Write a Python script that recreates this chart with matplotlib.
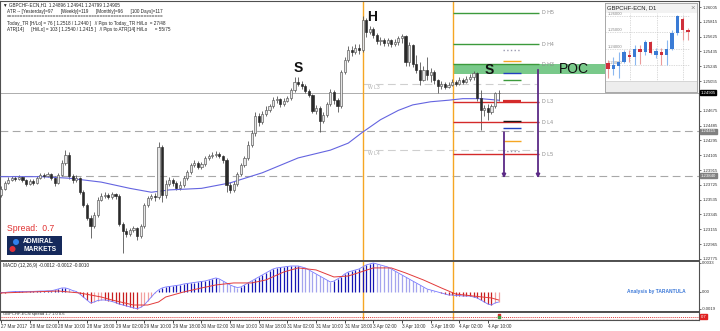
import numpy as np
import matplotlib
matplotlib.use('Agg')
import matplotlib.pyplot as plt
from matplotlib.patches import Rectangle, Circle

plt.rcParams['font.family'] = ['Liberation Sans', 'DejaVu Sans']

# ---------------- data (GBPCHF-ECN, H1) ----------------
first_open = 1.2360
closes = [1.2367, 1.2375, 1.2379, 1.2381, 1.2380, 1.2383, 1.2379, 1.2374, 1.2377, 1.2375,
          1.2381, 1.2385, 1.2384, 1.2386, 1.2381, 1.2375, 1.2385, 1.2401, 1.2411, 1.2384,
          1.2379, 1.2381, 1.2363, 1.2347, 1.2330, 1.2320, 1.2334, 1.2353, 1.2358, 1.2360,
          1.2357, 1.2361, 1.2358, 1.2322, 1.2313, 1.2310, 1.2315, 1.2317, 1.2307, 1.2320,
          1.2347, 1.2356, 1.2358, 1.2357, 1.2421, 1.2360, 1.2374, 1.2379, 1.2375, 1.2368,
          1.2372, 1.2381, 1.2389, 1.2398, 1.2401, 1.2395, 1.2399, 1.2407, 1.2410, 1.2411,
          1.2412, 1.2410, 1.2404, 1.2372, 1.2366, 1.2374, 1.2386, 1.2398, 1.2407, 1.2424,
          1.2439, 1.2461, 1.2453, 1.2463, 1.2468, 1.2474, 1.2481, 1.2483, 1.2476, 1.2480,
          1.2484, 1.2494, 1.2504, 1.2502, 1.2499, 1.2493, 1.2488, 1.2467, 1.2471, 1.2454,
          1.2462, 1.2476, 1.2492, 1.2481, 1.2474, 1.2517, 1.2533, 1.2545, 1.2543, 1.2548,
          1.2545, 1.2584, 1.2568, 1.2572, 1.2565, 1.2557, 1.2558, 1.2554, 1.2558, 1.2553,
          1.2556, 1.2561, 1.2563, 1.2530, 1.2552, 1.2527, 1.2520, 1.2507, 1.2520, 1.2513,
          1.2517, 1.2507, 1.2499, 1.2502, 1.2498, 1.2501, 1.2504, 1.2502, 1.2507, 1.2504,
          1.2508, 1.2511, 1.2516, 1.2484, 1.2468, 1.2471, 1.2466, 1.2474, 1.2490, 1.24905]
highs = [1.2371, 1.2377, 1.2383, 1.2384, 1.2384, 1.2385, 1.2384, 1.2380, 1.2380, 1.2380,
         1.2384, 1.2388, 1.2388, 1.2389, 1.2388, 1.2384, 1.2388, 1.2404, 1.2417, 1.2415,
         1.2386, 1.2385, 1.2383, 1.2366, 1.2349, 1.2334, 1.2338, 1.2357, 1.2362, 1.2363,
         1.2362, 1.2363, 1.2362, 1.2361, 1.2325, 1.2317, 1.2317, 1.2320, 1.2319, 1.2322,
         1.2349, 1.2358, 1.2361, 1.2362, 1.2427, 1.2424, 1.2379, 1.2383, 1.2381, 1.2377,
         1.2377, 1.2384, 1.2392, 1.2401, 1.2404, 1.2403, 1.2402, 1.2410, 1.2412, 1.2415,
         1.2416, 1.2415, 1.2411, 1.2407, 1.2376, 1.2377, 1.2389, 1.2401, 1.2410, 1.2429,
         1.2443, 1.2466, 1.2465, 1.2467, 1.2474, 1.2476, 1.2485, 1.2486, 1.2484, 1.2484,
         1.2486, 1.2497, 1.2511, 1.2511, 1.2506, 1.2502, 1.2495, 1.2489, 1.2475, 1.2474,
         1.2466, 1.2479, 1.2495, 1.2494, 1.2484, 1.2520, 1.2536, 1.2551, 1.2551, 1.2553,
         1.2553, 1.2589, 1.2586, 1.2576, 1.2575, 1.2567, 1.2562, 1.2561, 1.2561, 1.2560,
         1.2560, 1.2563, 1.2566, 1.2565, 1.2556, 1.2553, 1.2539, 1.2530, 1.2525, 1.2536,
         1.2522, 1.2520, 1.2508, 1.2506, 1.2504, 1.2504, 1.2508, 1.2507, 1.2511, 1.2510,
         1.2512, 1.2515, 1.2519, 1.2517, 1.2494, 1.2475, 1.2476, 1.2476, 1.2492, 1.2494]
lows = [1.2357, 1.2366, 1.2374, 1.2377, 1.2377, 1.2379, 1.2376, 1.2371, 1.2372, 1.2372,
        1.2374, 1.2380, 1.2381, 1.2383, 1.2379, 1.2371, 1.2374, 1.2384, 1.2398, 1.2380,
        1.2375, 1.2376, 1.2361, 1.2344, 1.2327, 1.2304, 1.2317, 1.2331, 1.2352, 1.2356,
        1.2354, 1.2354, 1.2354, 1.2320, 1.2285, 1.2306, 1.2307, 1.2312, 1.2302, 1.2304,
        1.2317, 1.2344, 1.2353, 1.2352, 1.2354, 1.2351, 1.2356, 1.2371, 1.2371, 1.2366,
        1.2366, 1.2370, 1.2379, 1.2386, 1.2395, 1.2393, 1.2393, 1.2397, 1.2404, 1.2407,
        1.2408, 1.2407, 1.2401, 1.2363, 1.2362, 1.2363, 1.2371, 1.2384, 1.2395, 1.2404,
        1.2421, 1.2435, 1.2448, 1.2451, 1.2461, 1.2466, 1.2471, 1.2477, 1.2472, 1.2474,
        1.2479, 1.2481, 1.2492, 1.2499, 1.2495, 1.2490, 1.2485, 1.2465, 1.2463, 1.2440,
        1.2452, 1.2460, 1.2474, 1.2476, 1.2466, 1.2471, 1.2515, 1.2530, 1.2538, 1.2540,
        1.2540, 1.2543, 1.2562, 1.2566, 1.2561, 1.2553, 1.2552, 1.2551, 1.2551, 1.2549,
        1.2551, 1.2552, 1.2554, 1.2525, 1.2525, 1.2524, 1.2516, 1.2501, 1.2505, 1.2507,
        1.2504, 1.2502, 1.2490, 1.2495, 1.2495, 1.2497, 1.2499, 1.2499, 1.2501, 1.2502,
        1.2503, 1.2506, 1.2507, 1.2480, 1.2443, 1.2461, 1.2456, 1.2463, 1.2471, 1.2480]

# 100-period moving average (read at selected bars)
ma_idx = [0, 11, 19, 28, 36, 42, 47, 56, 64, 73, 83, 92, 97, 101, 106, 111, 115, 120, 125, 129, 134, 139]
ma_val = [1.2383, 1.2383, 1.2381, 1.2376, 1.2368, 1.2363, 1.2366, 1.2368, 1.2375, 1.2388, 1.2407,
          1.2417, 1.2426, 1.2440, 1.2456, 1.2468, 1.2475, 1.2479, 1.2481, 1.2483, 1.2483, 1.2481]

# MACD main (pips) per bar, signal (pips) at selected bars
macd_pips = [-0.6, -0.6, 0.0,
             0.3, 0.6, 0.6, 0.7, 0.6, 0.6, 0.7, 0.9, 1.1, 1.1, 1.4, 1.4,
             2.3, 3.4, 4.6, 4.6, 3.4,
             1.7, 0.6,
             -2.3, -5.7, -9.1, -12.5,
             -11.4, -9.7, -9.1,
             -9.1, -9.7, -10.8, -12.0, -13.7, -14.8, -16.0, -17.0, -18.0, -19.0, -17.5,
             -14.8, -10.3, -5.7, -1.1,
             2.3, 4.6, 5.7, 6.3, 6.8, 7.4, 8.0, 9.1, 9.7, 10.3, 10.8, 11.4, 12.0, 12.5, 13.7, 14.8, 16.0,
             14.8, 12.5, 10.3, 8.0, 6.3, 5.1, 5.7,
             8.0, 10.3, 12.5, 14.8, 17.1, 19.4, 21.7, 23.9, 26.2, 27.4,
             27.9, 28.5, 29.1, 29.6, 29.6, 29.6,
             28.5, 27.4, 25.1, 22.8, 20.5, 18.2, 16.0, 13.7, 11.4,
             12.5, 14.8, 17.1, 20.5, 22.8, 23.9, 25.1, 26.2, 28.5, 30.8, 31.9, 33.0,
             31.9, 30.8, 29.6, 28.5, 26.2, 23.9, 21.7, 19.4, 17.1, 14.8, 12.5, 10.3, 8.0, 5.7, 3.4, 2.3, 1.1, 0.0,
             -1.1, -2.3, -3.4, -3.4, -4.0, -4.0, -4.6, -4.6, -4.6,
             -5.7, -6.8, -9.1, -11.4, -13.7, -14.8, -12.5, -11.4]
sig_idx = [0, 16, 22, 28, 31, 37, 41, 44, 46, 51, 56, 60, 65, 70, 74, 79, 83, 88, 93, 97,
           104, 109, 113, 118, 123, 127, 132, 137, 139]
sig_pips = [-1.1, 1.1, -1.1, -5.7, -9.1, -14.8, -14.8, -11.4, -5.7, 0.0, 4.6, 8.0, 10.3, 10.3,
            13.7, 22.8, 27.4, 25.1, 17.1, 18.2, 27.4, 27.4, 21.7, 13.7, 4.6, -2.3, -4.6, -6.8, -9.1]

time_idx = [0, 8, 16, 24, 32, 40, 48, 56, 64, 72, 80, 88, 96, 104, 112, 120, 128, 136]
time_labels = ['27 Mar 2017', '28 Mar 02:00', '28 Mar 10:00', '28 Mar 18:00', '29 Mar 02:00',
               '29 Mar 10:00', '29 Mar 18:00', '30 Mar 02:00', '30 Mar 10:00', '30 Mar 18:00',
               '31 Mar 02:00', '31 Mar 10:00', '31 Mar 18:00', '3 Apr 02:00', '3 Apr 10:00',
               '3 Apr 18:00', '4 Apr 02:00', '4 Apr 10:00']
day_sep_idx = [101.2, 126.2]

price_ticks = [1.26005, 1.25815, 1.25625, 1.25435, 1.25245, 1.25055, 1.24675, 1.24485,
               1.24295, 1.24105, 1.23915, 1.23725, 1.23535, 1.23345, 1.23155, 1.22965, 1.22775]
current_price = 1.24905
dashed_levels = [1.24415, 1.23840]
dashed_labels = ['1.24415', '1.23840']

week_names = ['W L3', 'W L4']
week_levels = [1.2502, 1.2417]
week_span = (101.2, 149.8)

day_names = ['D H5', 'D H4', 'D H3', 'D L3', 'D L4', 'D L5']
day_levels = [1.2593, 1.2553, 1.2527, 1.2479, 1.2453, 1.2412]
day_span = (126.3, 150.3)
poc_low, poc_high = 1.2515, 1.2527
poc_span = (126.3, 169.0)

mark_levels = [1.2545, 1.2531, 1.2516, 1.2507, 1.2480, 1.2454, 1.2445, 1.2429, 1.2416]
mark_span = (140.2, 145.3)

arrow_x = [140.5, 150.0]
arrow_from = [1.2440, 1.2520]
arrow_to = [1.2381, 1.2381]

pattern_text = ['S', 'H', 'S']
pattern_idx = [83.0, 103.6, 136.3]
pattern_price = [1.2522, 1.2588, 1.2520]

# daily mini chart
d1_open = [1.2312, 1.2275, 1.2293, 1.2318, 1.2361, 1.2349, 1.2398, 1.2379, 1.2441, 1.2361, 1.2379, 1.2361, 1.2398, 1.2496, 1.2582, 1.2514]
d1_close = [1.2275, 1.2300, 1.2318, 1.2379, 1.2349, 1.2398, 1.2379, 1.2441, 1.2373, 1.2385, 1.2361, 1.2398, 1.2496, 1.2600, 1.2514, 1.2502]
d1_high = [1.2330, 1.2349, 1.2379, 1.2392, 1.2392, 1.2422, 1.2422, 1.2453, 1.2447, 1.2404, 1.2404, 1.2453, 1.2514, 1.2606, 1.2594, 1.2526]
d1_low = [1.2220, 1.2238, 1.2220, 1.2312, 1.2318, 1.2300, 1.2306, 1.2361, 1.2367, 1.2343, 1.2300, 1.2300, 1.2392, 1.2484, 1.2453, 1.2453]
d1_ticks = [1.26, 1.25, 1.24, 1.23]

# ---------------- figure ----------------
W, H = 720, 331
fig = plt.figure(figsize=(7.2, 3.31), dpi=100)
fig.patch.set_facecolor('white')


def frac(x0, y0, x1, y1):
    return [x0 / W, 1 - y1 / H, (x1 - x0) / W, (y1 - y0) / H]


RX = 699
ax = fig.add_axes(frac(0, 1, RX, 260.5))
axm = fig.add_axes(frac(0, 260.5, RX, 312), sharex=ax)
axs = fig.add_axes(frac(0, 312, RX, 320), sharex=ax)

o = np.array([first_open] + closes[:-1])
c = np.array(closes)
h = np.maximum(np.array(highs), np.maximum(o, c))
l = np.minimum(np.array(lows), np.minimum(o, c))
idx = np.arange(len(c))
up = c >= o

ax.set_xlim(-0.28, 194.97)
ax.set_ylim(1.22755, 1.26082)

# POC band
ax.fill_between(list(poc_span), poc_low, poc_high, color='#79c98a', lw=0, zorder=1)

# full-width lines
for lv in dashed_levels:
    ax.axhline(lv, color='#a8a8a8', lw=0.8, ls=(0, (7, 4)), zorder=1)
ax.axhline(current_price, color='#a0a0a0', lw=0.6, zorder=1)

# day separators
for a in (ax, axm, axs):
    for xs in day_sep_idx:
        a.axvline(xs, color='#f5a623', lw=1.0, zorder=2)

# weekly levels
ax.hlines(week_levels, week_span[0], week_span[1], colors='#cfcfcf', lw=0.8, linestyles=[(0, (7, 4))], zorder=1)
for nm, lv in zip(week_names, week_levels):
    ax.text(week_span[0] + 1.2, lv - 0.0001, nm, fontsize=3.6, color='#b0b0b0', va='top', ha='left')

# candles
ax.vlines(idx, l, h, color='#555555', lw=0.6, zorder=3)
bh = np.maximum(np.abs(c - o), 0.00003)
bb = np.minimum(o, c)
ax.bar(idx[up], bh[up], bottom=bb[up], width=0.6, color='#e6e6e6', edgecolor='#555555', linewidth=0.45, zorder=4)
ax.bar(idx[~up], bh[~up], bottom=bb[~up], width=0.6, color='#2a2a2a', edgecolor='#2a2a2a', linewidth=0.45, zorder=4)

# moving average
ax.plot(ma_idx, ma_val, color='#6464e0', lw=0.8, zorder=3)

# daily pivot levels
day_cols = ['#3c9a3c', '#3c9a3c', '#3c9a3c', '#d42a2a', '#d42a2a', '#d42a2a']
ax.hlines(day_levels, day_span[0], day_span[1], colors=day_cols, lw=1.0, zorder=3)
for nm, lv in zip(day_names, day_levels):
    ax.text(day_span[1] + 0.9, lv, nm, fontsize=3.8, color='#8c8c8c', va='center', ha='left')

mark_cols = ['#9a9ab0', '#f5a623', '#2040c0', '#3c9a3c', '#d42a2a', '#1a1a1a', '#2040c0', '#f5a623', '#9a9ab0']
mark_styles = [':', '-', '-', '-', '-', '-', '-', '-', ':']
mark_lw = [1.0, 1.0, 1.0, 1.0, 1.6, 1.0, 1.0, 1.0, 1.0]
for lv, col, st, lw in zip(mark_levels, mark_cols, mark_styles, mark_lw):
    ax.hlines(lv, mark_span[0], mark_span[1], colors=col, linestyles=st, lw=lw, zorder=3)

for xa, y0, y1 in zip(arrow_x, arrow_from, arrow_to):
    ax.annotate('', xy=(xa, y1), xytext=(xa, y0),
                arrowprops=dict(arrowstyle='-|>', color='#5b2a86', lw=1.3, mutation_scale=5,
                                shrinkA=0, shrinkB=0), zorder=5)

for t, xi, pv in zip(pattern_text, pattern_idx, pattern_price):
    ax.text(xi, pv, t, fontsize=10, fontweight='bold', color='#111111', ha='center', va='center', zorder=6)
ax.text(155.8, (poc_low + poc_high) / 2, 'POC', fontsize=10, color='#111111', ha='left', va='center', zorder=6)

# right price axis
ax.yaxis.tick_right()
ax.set_yticks(price_ticks)
ax.set_yticklabels([f'{p:.5f}' for p in price_ticks])
ax.tick_params(axis='y', labelsize=3.1, length=1.5, pad=0.8, width=0.5, colors='#333333')
ax.tick_params(axis='x', bottom=False, labelbottom=False)


def axis_tag(a, y, text, fc, tc='white'):
    a.annotate(text, xy=(1.0, y), xycoords=('axes fraction', 'data'), xytext=(1.3, 0),
               textcoords='offset points', fontsize=3.1, color=tc, va='center', ha='left',
               bbox=dict(boxstyle='square,pad=0.12', fc=fc, ec=fc), annotation_clip=False, zorder=10)


axis_tag(ax, current_price, f'{current_price:.5f}', '#000000')
for lv, lb in zip(dashed_levels, dashed_labels):
    axis_tag(ax, lv, lb, '#808080')

# ---------------- MACD ----------------
macd = np.array(macd_pips) * 1e-4
sig = np.array(sig_pips) * 1e-4
prev = np.concatenate([[macd[0]], macd[:-1]])
cols = []
for v, pv in zip(macd, prev):
    if v >= 0:
        cols.append('#1616b4' if v >= pv else '#a4a4ee')
    else:
        cols.append('#c81e1e' if v <= pv else '#f2a0a0')
axm.vlines(idx, 0, macd, colors=cols, lw=0.9, zorder=3)
axm.plot(idx, macd, color='#7878ff', lw=0.6, zorder=4)
axm.plot(sig_idx, sig, color='#e23a3a', lw=0.7, zorder=4)
axm.set_ylim(-0.002276, 0.003584)
axm.yaxis.tick_right()
axm.set_yticks([0.0033, 0.0, -0.0019])
axm.set_yticklabels(['0.0033', '0.00', '-0.0019'])
axm.tick_params(axis='y', labelsize=3.1, length=1.5, pad=0.8, width=0.5, colors='#333333')
axm.tick_params(axis='x', bottom=False, labelbottom=False)
axm.text(0.004, 0.95, 'MACD (12,26,9) -0.0012 -0.0012 -0.0010', transform=axm.transAxes,
         fontsize=3.4, va='top', ha='left', color='#222222')
axm.text(0.897, 0.39, 'Analysis by TARANTULA', transform=axm.transAxes, fontsize=3.5,
         fontweight='bold', color='#3b78d8', va='center', ha='left')

# ---------------- spread window ----------------
axs.set_ylim(0, 1)
axs.axhline(0.42, color='#e04040', lw=0.7, ls=(0, (1, 1)))
axs.axhline(0.18, color='#e9b0b0', lw=0.5, ls=(0, (1, 1)))
axs.text(0.004, 0.78, 'GBPCHF-ECN spread 1.7 1.0 0.6', transform=axs.transAxes, fontsize=3.0,
         va='center', ha='left', color='#333333')
axs.scatter([idx[-1]], [0.62], marker='s', s=3, color='#d42a2a', zorder=5)
axs.scatter([idx[-1]], [0.35], marker='s', s=3, color='#3c9a3c', zorder=5)
axs.set_yticks([])
axis_tag(axs, 0.42, '0.7', '#e02020')
axs.set_xticks(time_idx)
axs.set_xticklabels(time_labels, fontsize=3.3, ha='left', color='#333333')
axs.tick_params(axis='x', length=2, pad=1.2, width=0.5)

for a in (ax, axm, axs):
    for s in a.spines.values():
        s.set_color('#505050')
        s.set_linewidth(0.8)
ax.spines['bottom'].set_linewidth(1.4)
axm.spines['top'].set_linewidth(1.4)
axm.spines['bottom'].set_linewidth(1.4)
axs.spines['top'].set_linewidth(1.4)

# ---------------- overlay decorations ----------------
ov = fig.add_axes([0, 0, 1, 1])
ov.set_xlim(0, W)
ov.set_ylim(H, 0)
ov.axis('off')
ov.patch.set_alpha(0)
ov.set_zorder(5)

info = ['\u25bc GBPCHF-ECN,H1  1.24896 1.24941 1.24799 1.24905',
        'ATR -- [Yesterday]=97      [Weekly]=119      [Monthly]=96      [100 Days]=117',
        '=========================================================',
        'Today_TR [H/Lo] = 76 [ 1.2518 / 1.2440 ]   // Pips to Today_TR Hi/Lo  = 27/48',
        'ATR[14]      [Hi/Lo] = 103 [ 1.2540 / 1.2415 ]   // Pips to ATR[14] Hi/Lo      = 55/75']
info_y = [4.5, 11, 17, 23, 29]
for t, yy in zip(info, info_y):
    ov.text(3 if t.startswith('\u25bc') else 7, yy, t, fontsize=3.3, va='center', ha='left', color='#222222')

ov.text(7, 228.5, 'Spread:  0.7', fontsize=6.2, color='#e03030', va='center', ha='left')
ov.add_patch(Rectangle((7, 236), 55, 19, fc='#15295b', ec='none'))
ov.add_patch(Circle((16, 242), 3.0, fc='#2f80ed', ec='none'))
ov.add_patch(Circle((12.5, 249), 3.0, fc='#e0303a', ec='none'))
ov.text(23, 241.5, 'ADMIRAL', fontsize=4.8, fontweight='bold', color='white', va='center', ha='left')
ov.text(23, 249.5, 'MARKETS', fontsize=4.8, fontweight='bold', color='white', va='center', ha='left')

# ---------------- daily mini window ----------------
axw = fig.add_axes(frac(605, 3, 697, 92))
axw.set_zorder(10)
axw.set_xlim(0, 92)
axw.set_ylim(89, 0)
axw.set_xticks([])
axw.set_yticks([])
axw.set_facecolor('white')
for s in axw.spines.values():
    s.set_color('#a8a8a8')
    s.set_linewidth(0.7)
axw.add_patch(Rectangle((0, 0), 92, 10, fc='#f2f2f2', ec='none'))
axw.add_patch(Rectangle((0, 78), 92, 11, fc='#ededed', ec='#c8c8c8', lw=0.5))
axw.text(2, 5.2, 'GBPCHF-ECN, D1', fontsize=4.2, va='center', ha='left', color='#222222')
axw.text(88, 5.2, '\u00d7', fontsize=5.5, va='center', ha='center', color='#888888')

axi = fig.add_axes(frac(606, 13, 690, 81))
axi.set_zorder(11)
axi.patch.set_alpha(0)
for s in axi.spines.values():
    s.set_visible(False)
axi.set_xticks([])
axi.set_yticks([])
axi.set_xlim(-0.4, 15.4)
axi.set_ylim(1.2202, 1.2618)
for gx in [4.1, 9.2, 14.1]:
    axi.axvline(gx, color='#b8b8b8', lw=0.5, ls=(0, (1, 1.5)), zorder=1)
for gy in d1_ticks:
    axi.axhline(gy, color='#b8b8b8', lw=0.5, ls=(0, (1, 1.5)), zorder=1)
    axi.text(0.0, gy, f'{gy:.5f}', fontsize=3.0, color='#888888', va='bottom', ha='left', zorder=2)
do = np.array(d1_open); dc = np.array(d1_close); dh = np.array(d1_high); dl = np.array(d1_low)
di = np.arange(len(do))
dup = dc >= do
axi.vlines(di[dup], dl[dup], dh[dup], color='#8cb8f0', lw=0.8, zorder=3)
axi.vlines(di[~dup], dl[~dup], dh[~dup], color='#eb9a9a', lw=0.8, zorder=3)
axi.bar(di[dup], np.abs(dc - do)[dup], bottom=np.minimum(do, dc)[dup], width=0.62, color='#3a7bd5', zorder=4)
axi.bar(di[~dup], np.maximum(np.abs(dc - do)[~dup], 0.0002), bottom=np.minimum(do, dc)[~dup], width=0.62,
        color='#cf2f3a', zorder=4)

fig.savefig('out.png', dpi=100)
